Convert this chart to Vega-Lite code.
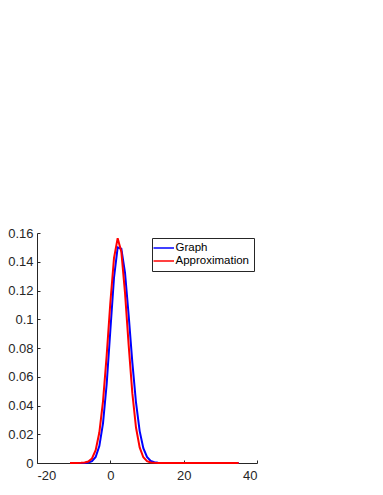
{
  "$schema": "https://vega.github.io/schema/vega-lite/v6.json",
  "width": 220,
  "height": 230,
  "autosize": {"type": "none"},
  "padding": {"left": 37, "top": 233, "right": 126, "bottom": 32},
  "background": "white",
  "config": {
    "view": {"stroke": null},
    "font": "Liberation Sans",
    "axis": {
      "grid": false,
      "title": null,
      "domainColor": "#262626",
      "tickColor": "#262626",
      "labelColor": "#262626",
      "labelFontSize": 13,
      "tickSize": -3,
      "domainWidth": 1,
      "tickWidth": 1
    }
  },
  "data": {
    "values": [
      {"x": -11, "y": 0, "series": "Graph"},
      {"x": -10, "y": 0, "series": "Graph"},
      {"x": -9, "y": 0, "series": "Graph"},
      {"x": -8, "y": 0, "series": "Graph"},
      {"x": -7, "y": 0.00005, "series": "Graph"},
      {"x": -6, "y": 0.0003, "series": "Graph"},
      {"x": -5, "y": 0.0013, "series": "Graph"},
      {"x": -4, "y": 0.0042, "series": "Graph"},
      {"x": -3, "y": 0.0118, "series": "Graph"},
      {"x": -2, "y": 0.0276, "series": "Graph"},
      {"x": -1, "y": 0.0548, "series": "Graph"},
      {"x": 0, "y": 0.0922, "series": "Graph"},
      {"x": 1, "y": 0.129, "series": "Graph"},
      {"x": 2, "y": 0.15, "series": "Graph"},
      {"x": 3, "y": 0.149, "series": "Graph"},
      {"x": 4, "y": 0.1325, "series": "Graph"},
      {"x": 5, "y": 0.1027, "series": "Graph"},
      {"x": 6, "y": 0.07, "series": "Graph"},
      {"x": 7, "y": 0.0421, "series": "Graph"},
      {"x": 8, "y": 0.0222, "series": "Graph"},
      {"x": 9, "y": 0.0103, "series": "Graph"},
      {"x": 10, "y": 0.0042, "series": "Graph"},
      {"x": 11, "y": 0.0015, "series": "Graph"},
      {"x": 12, "y": 0.0005, "series": "Graph"},
      {"x": 13, "y": 0.0001, "series": "Graph"},
      {"x": 14, "y": 0, "series": "Graph"},
      {"x": 15, "y": 0, "series": "Graph"},
      {"x": 16, "y": 0, "series": "Graph"},
      {"x": 17, "y": 0, "series": "Graph"},
      {"x": 18, "y": 0, "series": "Graph"},
      {"x": 19, "y": 0, "series": "Graph"},
      {"x": 20, "y": 0, "series": "Graph"},
      {"x": 21, "y": 0, "series": "Graph"},
      {"x": 22, "y": 0, "series": "Graph"},
      {"x": 23, "y": 0, "series": "Graph"},
      {"x": 24, "y": 0, "series": "Graph"},
      {"x": 25, "y": 0, "series": "Graph"},
      {"x": 26, "y": 0, "series": "Graph"},
      {"x": 27, "y": 0, "series": "Graph"},
      {"x": 28, "y": 0, "series": "Graph"},
      {"x": 29, "y": 0, "series": "Graph"},
      {"x": 30, "y": 0, "series": "Graph"},
      {"x": 31, "y": 0, "series": "Graph"},
      {"x": 32, "y": 0, "series": "Graph"},
      {"x": 33, "y": 0, "series": "Graph"},
      {"x": 34, "y": 0, "series": "Graph"},
      {"x": 35, "y": 0, "series": "Graph"},
      {"x": -11, "y": 0, "series": "Approximation"},
      {"x": -10, "y": 0, "series": "Approximation"},
      {"x": -9, "y": 0, "series": "Approximation"},
      {"x": -8, "y": 0.0001, "series": "Approximation"},
      {"x": -7, "y": 0.0003, "series": "Approximation"},
      {"x": -6, "y": 0.001, "series": "Approximation"},
      {"x": -5, "y": 0.0032, "series": "Approximation"},
      {"x": -4, "y": 0.0089, "series": "Approximation"},
      {"x": -3, "y": 0.0212, "series": "Approximation"},
      {"x": -2, "y": 0.0429, "series": "Approximation"},
      {"x": -1, "y": 0.0747, "series": "Approximation"},
      {"x": 0, "y": 0.1115, "series": "Approximation"},
      {"x": 1, "y": 0.1426, "series": "Approximation"},
      {"x": 2, "y": 0.1564, "series": "Approximation"},
      {"x": 3, "y": 0.147, "series": "Approximation"},
      {"x": 4, "y": 0.1185, "series": "Approximation"},
      {"x": 5, "y": 0.082, "series": "Approximation"},
      {"x": 6, "y": 0.0486, "series": "Approximation"},
      {"x": 7, "y": 0.0247, "series": "Approximation"},
      {"x": 8, "y": 0.0108, "series": "Approximation"},
      {"x": 9, "y": 0.004, "series": "Approximation"},
      {"x": 10, "y": 0.0013, "series": "Approximation"},
      {"x": 11, "y": 0.0004, "series": "Approximation"},
      {"x": 12, "y": 0.0001, "series": "Approximation"},
      {"x": 13, "y": 0, "series": "Approximation"},
      {"x": 14, "y": 0, "series": "Approximation"},
      {"x": 15, "y": 0, "series": "Approximation"},
      {"x": 16, "y": 0, "series": "Approximation"},
      {"x": 17, "y": 0, "series": "Approximation"},
      {"x": 18, "y": 0, "series": "Approximation"},
      {"x": 19, "y": 0, "series": "Approximation"},
      {"x": 20, "y": 0, "series": "Approximation"},
      {"x": 21, "y": 0, "series": "Approximation"},
      {"x": 22, "y": 0, "series": "Approximation"},
      {"x": 23, "y": 0, "series": "Approximation"},
      {"x": 24, "y": 0, "series": "Approximation"},
      {"x": 25, "y": 0, "series": "Approximation"},
      {"x": 26, "y": 0, "series": "Approximation"},
      {"x": 27, "y": 0, "series": "Approximation"},
      {"x": 28, "y": 0, "series": "Approximation"},
      {"x": 29, "y": 0, "series": "Approximation"},
      {"x": 30, "y": 0, "series": "Approximation"},
      {"x": 31, "y": 0, "series": "Approximation"},
      {"x": 32, "y": 0, "series": "Approximation"},
      {"x": 33, "y": 0, "series": "Approximation"},
      {"x": 34, "y": 0, "series": "Approximation"},
      {"x": 35, "y": 0, "series": "Approximation"}
    ]
  },
  "mark": {"type": "line", "strokeWidth": 2},
  "encoding": {
    "x": {
      "field": "x",
      "type": "quantitative",
      "scale": {"domain": [-20, 40], "nice": false, "zero": false},
      "axis": {"values": [-20, 0, 20, 40], "labelPadding": 9, "labelExpr": "'' + datum.value"}
    },
    "y": {
      "field": "y",
      "type": "quantitative",
      "scale": {"domain": [0, 0.16], "nice": false},
      "axis": {"values": [0, 0.02, 0.04, 0.06, 0.08, 0.1, 0.12, 0.14, 0.16], "labelExpr": "'' + datum.value", "labelPadding": 7}
    },
    "color": {
      "field": "series",
      "type": "nominal",
      "sort": ["Graph", "Approximation"],
      "scale": {"domain": ["Graph", "Approximation"], "range": ["#0000ff", "#ff0000"]},
      "legend": {
        "title": null,
        "orient": "none",
        "legendX": 115,
        "legendY": 5,
        "strokeColor": "#262626",
        "fillColor": "white",
        "padding": 4,
        "symbolType": "M-1.7,0H2.4",
        "symbolSize": 100,
        "symbolStrokeWidth": 1.5,
        "labelFontSize": 11.5,
        "labelColor": "#000000",
        "labelOffset": 7.5,
        "rowPadding": 1
      }
    }
  }
}
